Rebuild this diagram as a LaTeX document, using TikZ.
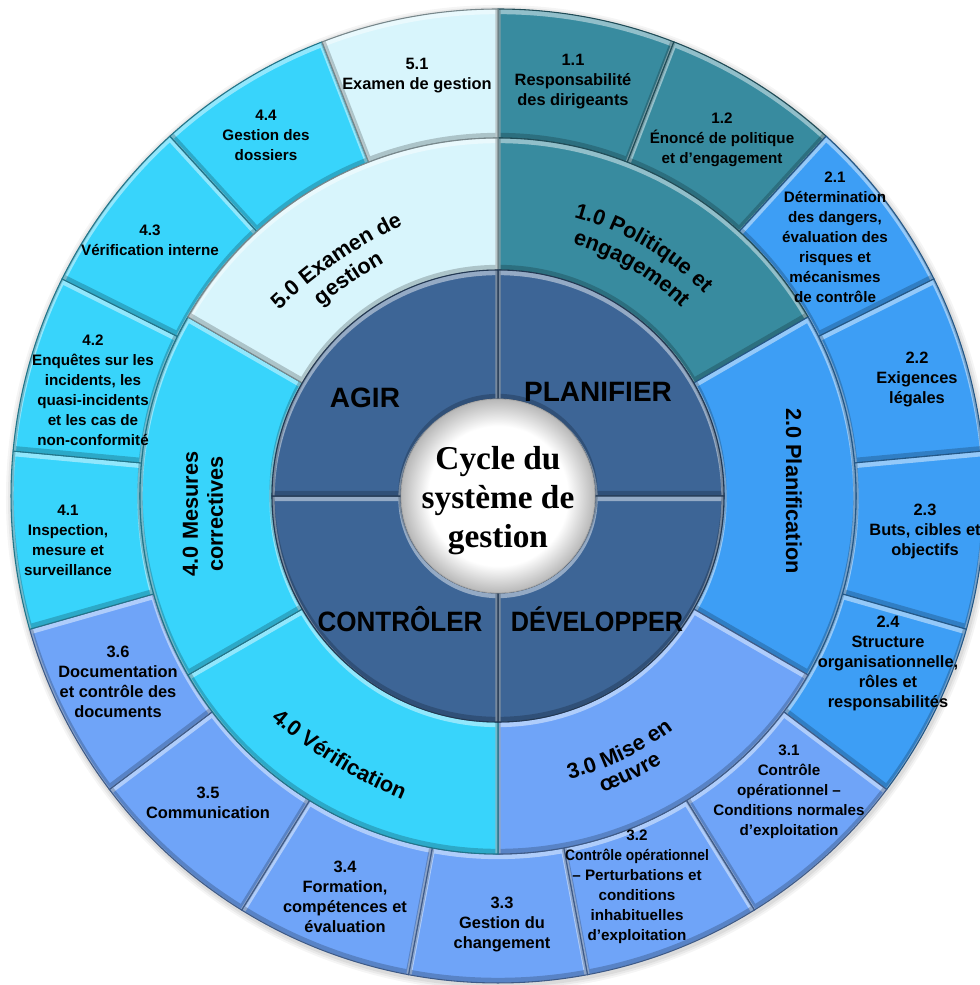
\documentclass[tikz,border=0pt]{standalone}
\usepackage{fontspec}
\usepackage{graphicx}
\setmainfont{Liberation Sans}
\newfontfamily\cycleserif{Liberation Serif}
\usetikzlibrary{decorations.text}

\definecolor{polcol}{RGB}{56,139,159}
\definecolor{plancol}{RGB}{61,158,245}
\definecolor{implcol}{RGB}{111,164,248}
\definecolor{verifcol}{RGB}{56,212,251}
\definecolor{revcol}{RGB}{216,245,252}
\definecolor{corecol}{RGB}{61,101,150}

\newcommand\outfont{\fontsize{12.3}{15}\selectfont\bfseries}
\newcommand\outsmallfont{\fontsize{11.4}{15}\selectfont\bfseries}
\newcommand\midfont{\fontsize{16.3}{18.75}\selectfont\bfseries}
\newcommand\quadfont{\fontsize{21}{25}\selectfont\bfseries}
\newcommand\cyclefont{\cycleserif\fontsize{25}{29.25}\selectfont\bfseries}

\pgfdeclareradialshading{centerglow}{\pgfpoint{0bp}{0bp}}{%
  color(0bp)=(white); color(18bp)=(white); color(25bp)=(black!28); color(50bp)=(black!28)}

% embossed annular sector: colour, start angle, end angle, inner radius, outer radius
\newcommand\ringsector[5]{%
  \fill[#1] (#2:#5) arc[start angle=#2,end angle=#3,radius=#5] -- (#3:#4) arc[start angle=#3,end angle=#2,radius=#4] -- cycle;
  \begin{scope}
    \clip (#2:#5) arc[start angle=#2,end angle=#3,radius=#5] -- (#3:#4) arc[start angle=#3,end angle=#2,radius=#4] -- cycle;
    \draw[white,opacity=.45,line width=4,shift={(0,-2.5)}] (#2:#5) arc[start angle=#2,end angle=#3,radius=#5] -- (#3:#4) arc[start angle=#3,end angle=#2,radius=#4] -- cycle;
    \draw[black,opacity=.2,line width=4,shift={(0,2.5)}] (#2:#5) arc[start angle=#2,end angle=#3,radius=#5] -- (#3:#4) arc[start angle=#3,end angle=#2,radius=#4] -- cycle;
  \end{scope}
  \draw[#1!55!black,line width=.8] (#2:#5) arc[start angle=#2,end angle=#3,radius=#5] -- (#3:#4) arc[start angle=#3,end angle=#2,radius=#4] -- cycle;
}

\tikzset{
  outer/.style={align=center,font=\outfont,text=black,inner sep=0pt},
  outsmall/.style={align=center,font=\outsmallfont,text=black,inner sep=0pt},
  midlabel/.style={align=center,font=\midfont,text=black,inner sep=0pt},
  quad/.style={font=\quadfont,text=black,inner sep=0pt},
  arclabel/.style={decorate,decoration={text along path,text align=center,text={|\midfont|#1}}}
}

\begin{document}
\begin{tikzpicture}[x=0.75pt,y=0.75pt]
\useasboundingbox (-498,-489) rectangle (482,496);

% soft shadow under the wheel
\foreach \r/\o in {493/.04,491/.05,489/.06}
  \fill[black,opacity=\o] (1,-2) circle (\r);

% outer ring: seventeen elements
\foreach \k/\col in {0/polcol,1/polcol,2/plancol,3/plancol,4/plancol,5/plancol,
    6/implcol,7/implcol,8/implcol,9/implcol,10/implcol,11/implcol,
    12/verifcol,13/verifcol,14/verifcol,15/verifcol,16/revcol}{
  \pgfmathsetmacro\sa{90-\k*360/17}
  \pgfmathsetmacro\sb{90-(\k+1)*360/17}
  \ringsector{\col}{\sa}{\sb}{358}{487}
}

% middle ring: six phases
\ringsector{polcol}{90}{30}{226}{358}
\ringsector{plancol}{30}{-30}{226}{358}
\ringsector{implcol}{-30}{-90}{226}{358}
\ringsector{verifcol}{-90}{-150}{226}{358}
\ringsector{verifcol}{-150}{-210}{226}{358}
\ringsector{revcol}{150}{90}{226}{358}

% core ring: four quadrants
\ringsector{corecol}{90}{0}{97}{226}
\ringsector{corecol}{0}{-90}{97}{226}
\ringsector{corecol}{-90}{-180}{97}{226}
\ringsector{corecol}{180}{90}{97}{226}

% centre disc
\shade[shading=centerglow] (0,0) circle (97);
\draw[black!35,line width=.6] (0,0) circle (97);

% centre title
\node[align=center,font=\cyclefont,inner sep=0pt] (cycle) at (0,-5) {Cycle du\\système de\\gestion};

% quadrant labels
\node[quad] (agir) at (-133,98) {AGIR};
\node[quad] (planifier) at (100,104) {PLANIFIER};
\node[quad] (controler) at (-98,-123) {\scalebox{0.93}[1]{CONTRÔLER}};
\node[quad] (developper) at (99,-123) {\scalebox{0.9}[1]{DÉVELOPPER}};

% phase labels: gently curved ones use a wider arc shifted onto the ring
\path[arclabel={5.0 Examen de},shift={(124.5:-166.5)}] (149.5:450) arc[start angle=149.5,end angle=99.5,radius=450];
\path[arclabel={gestion},shift={(124.5:-191.5)}] (149.5:450) arc[start angle=149.5,end angle=99.5,radius=450];
\path[arclabel={1.0 Politique et}] (99.6:289) arc[start angle=99.6,end angle=19.6,radius=289];
\path[arclabel={engagement}] (99.6:263) arc[start angle=99.6,end angle=19.6,radius=263];
\path[arclabel={3.0 Mise en}] (-104.5:292) arc[start angle=-104.5,end angle=-24.5,radius=292];
\path[arclabel={œuvre}] (-104.5:314) arc[start angle=-104.5,end angle=-24.5,radius=314];
\path[arclabel={4.0 Vérification},shift={(-121.5:-185)}] (-141.5:500) arc[start angle=-141.5,end angle=-101.5,radius=500];
\node[midlabel,rotate=-90] (m20) at (296,5) {2.0 Planification};
\node[midlabel,rotate=90] (m40) at (-295,-18) {4.0 Mesures\\correctives};

% element labels
\node[outer] (t51) at (-81,420) {5.1\\Examen de gestion};
\node[outer] (t11) at (75,414) {1.1\\Responsabilité\\des dirigeants};
\node[outsmall] (t12) at (224,356) {1.2\\Énoncé de politique\\et d’engagement};
\node[outsmall] (t21) at (337,259) {2.1\\Détermination\\des dangers,\\évaluation des\\risques et\\mécanismes\\de contrôle};
\node[outer] (t22) at (419,116) {2.2\\Exigences\\légales};
\node[outer] (t23) at (427,-35) {2.3\\Buts, cibles et\\objectifs};
\node[outer] (t24) at (390,-167) {2.4\\Structure\\organisationnelle,\\rôles et\\responsabilités};
\node[outsmall] (t31) at (291,-296) {3.1\\Contrôle\\opérationnel –\\Conditions normales\\d’exploitation};
\node[outsmall] (t32) at (139,-391) {3.2\\\scalebox{0.91}[1]{Contrôle opérationnel}\\– Perturbations et\\conditions\\inhabituelles\\d’exploitation};
\node[outer] (t33) at (4,-429) {3.3\\Gestion du\\changement};
\node[outer] (t34) at (-153,-401) {3.4\\Formation,\\compétences et\\évaluation};
\node[outer] (t35) at (-290,-307) {3.5\\Communication};
\node[outer] (t36) at (-380,-186) {3.6\\Documentation\\et contrôle des\\documents};
\node[outsmall] (t41) at (-430,-44) {4.1\\Inspection,\\mesure et\\surveillance};
\node[outsmall] (t42) at (-405,106) {4.2\\Enquêtes sur les\\incidents, les\\quasi-incidents\\et les cas de\\non-conformité};
\node[outsmall] (t43) at (-348,256) {4.3\\Vérification interne};
\node[outsmall] (t44) at (-232,361) {4.4\\Gestion des\\dossiers};
\end{tikzpicture}
\end{document}
